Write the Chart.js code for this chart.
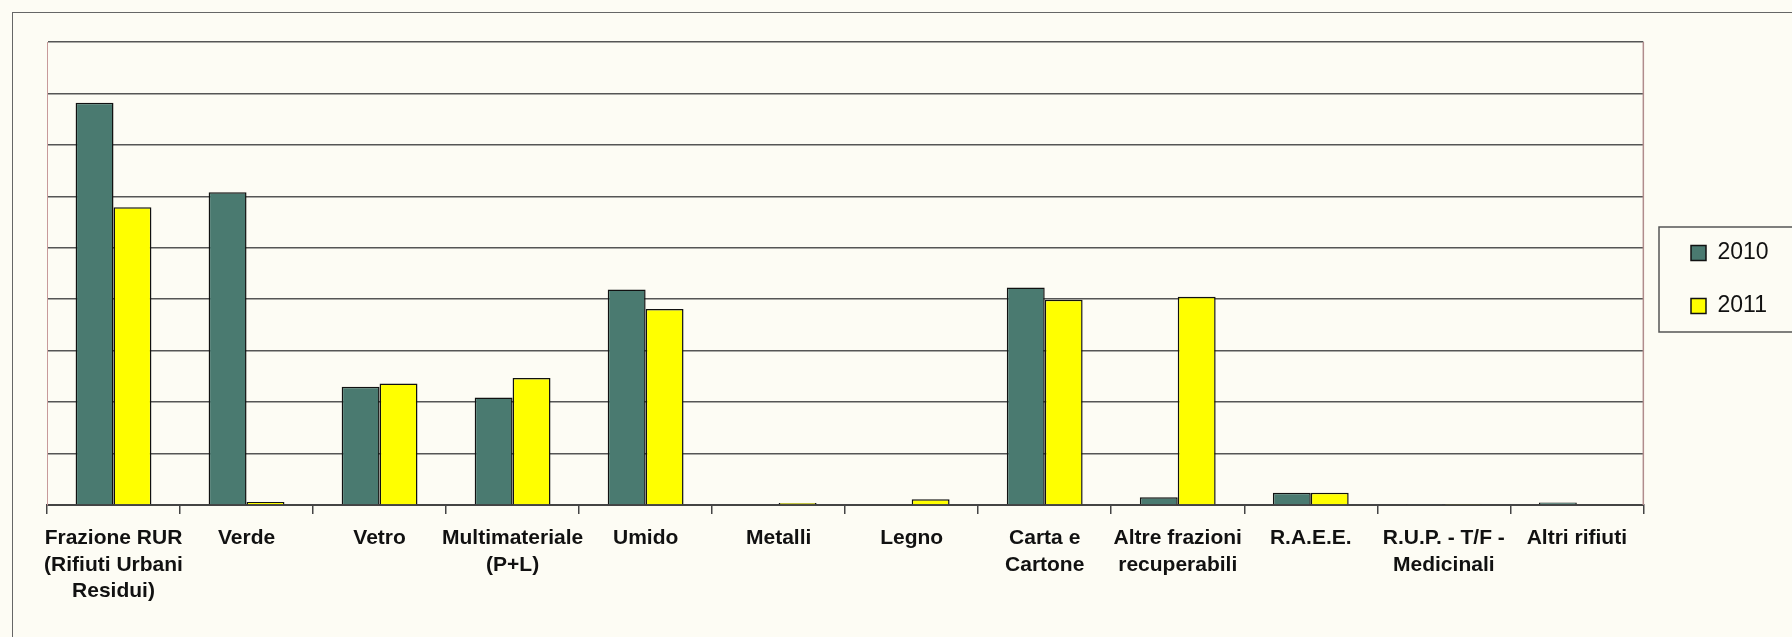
<!DOCTYPE html>
<html>
<head>
<meta charset="utf-8">
<script src="https://cdn.jsdelivr.net/npm/chart.js@4"></script>
<style>
  html, body { margin: 0; padding: 0; background: #fdfcf4; }
  #wrap { position: relative; width: 1792px; height: 637px; }
  #frame { position: absolute; left: 12px; top: 12px; right: -4px; bottom: -4px;
           border-top: 1.5px solid #666; border-left: 1.5px solid #666; }
  canvas { position: absolute; left: 0; top: 0; }
</style>
</head>
<body>
<div id="wrap">
  <div id="frame"></div>
  <canvas id="wasteChart" width="1792" height="637"></canvas>
</div>
<script>
// categories (x axis)
const categories = [
  ["Frazione RUR", "(Rifiuti Urbani", "Residui)"],
  "Verde",
  "Vetro",
  ["Multimateriale", "(P+L)"],
  "Umido",
  "Metalli",
  "Legno",
  ["Carta e", "Cartone"],
  ["Altre frazioni", "recuperabili"],
  "R.A.E.E.",
  ["R.U.P. - T/F -", "Medicinali"],
  "Altri rifiuti"
];

// values, in gridline units (no y labels in the original)
const values2010 = [7.82, 6.08, 2.30, 2.09, 4.19, 0, 0, 4.23, 0.15, 0.24, 0.02, 0.05];
const values2011 = [5.79, 0.06, 2.36, 2.47, 3.81, 0.04, 0.11, 3.99, 4.05, 0.24, 0.02, 0];

const seriesNames = ["2010", "2011"];

// move the legend to where it sits in the original (first swatch at ~1691, 253)
const legendPlacePlugin = {
  id: "legendPlace",
  afterUpdate(chart) {
    const legend = chart.legend;
    const boxes = legend.legendHitBoxes;
    if (!boxes || !boxes.length) return;
    const dx = 1691 - boxes[0].left;
    const dy = 253 - (boxes[0].top + boxes[0].height / 2);
    legend.left += dx; legend.right += dx;
    legend.top += dy; legend.bottom += dy;
    boxes.forEach((b) => { b.left += dx; b.top += dy; });
  }
};

// draws the frame round the legend and the right edge of the plot
const framePlugin = {
  id: "frames",
  afterDraw(chart) {
    const ctx = chart.ctx;
    const area = chart.chartArea;
    ctx.save();
    ctx.strokeStyle = "#b08c8c";
    ctx.lineWidth = 1.5;
    ctx.beginPath();
    ctx.moveTo(area.right, area.top);
    ctx.lineTo(area.right, area.bottom);
    ctx.stroke();

    const boxes = chart.legend.legendHitBoxes;
    if (boxes && boxes.length) {
      const first = boxes[0];
      const last = boxes[boxes.length - 1];
      const top = first.top + first.height / 2 - 26;
      const bottom = last.top + last.height / 2 + 26;
      const left = first.left - 32;
      ctx.strokeStyle = "#555";
      ctx.lineWidth = 1.5;
      ctx.strokeRect(left, top, 1800 - left, bottom - top);
    }
    ctx.restore();
  }
};

const ctx = document.getElementById("wasteChart").getContext("2d");
new Chart(ctx, {
  type: "bar",
  data: {
    labels: categories,
    datasets: [
      {
        label: seriesNames[0],
        data: values2010,
        backgroundColor: "#4a7a70",
        borderColor: "#111",
        borderWidth: 1.5,
        categoryPercentage: 0.57,
        barPercentage: 1.0
      },
      {
        label: seriesNames[1],
        data: values2011,
        backgroundColor: "#ffff00",
        borderColor: "#111",
        borderWidth: 1.5,
        categoryPercentage: 0.57,
        barPercentage: 1.0
      }
    ]
  },
  options: {
    responsive: false,
    animation: false,
    layout: {
      padding: { top: 42, left: 47, right: 31, bottom: 21 }
    },
    scales: {
      x: {
        grid: {
          offset: true,
          drawOnChartArea: false,
          drawTicks: true,
          tickLength: 9,
          color: "#444",
          lineWidth: 1.5
        },
        border: { color: "#444", width: 2 },
        ticks: {
          color: "#111",
          padding: 11,
          maxRotation: 0,
          autoSkip: false,
          font: { family: "'Liberation Sans', Arial, sans-serif", size: 21, weight: "bold", lineHeight: 1.27 }
        }
      },
      y: {
        min: 0,
        max: 9,
        ticks: { display: false, stepSize: 1 },
        grid: { color: "#555", lineWidth: 1.5, drawTicks: false },
        border: { color: "#c89a9a", width: 1 }
      }
    },
    plugins: {
      legend: {
        position: "right",
        labels: {
          color: "#111",
          boxWidth: 15,
          boxHeight: 15,
          padding: 30,
          font: { family: "'Liberation Sans', Arial, sans-serif", size: 23 },
          generateLabels(chart) {
            return chart.data.datasets.map((ds, i) => ({
              text: ds.label,
              fillStyle: ds.backgroundColor,
              strokeStyle: "#111",
              lineWidth: 1.5,
              datasetIndex: i,
              fontColor: "#111"
            }));
          }
        }
      },
      tooltip: { enabled: false }
    }
  },
  plugins: [legendPlacePlugin, framePlugin]
});
</script>
</body>
</html>
